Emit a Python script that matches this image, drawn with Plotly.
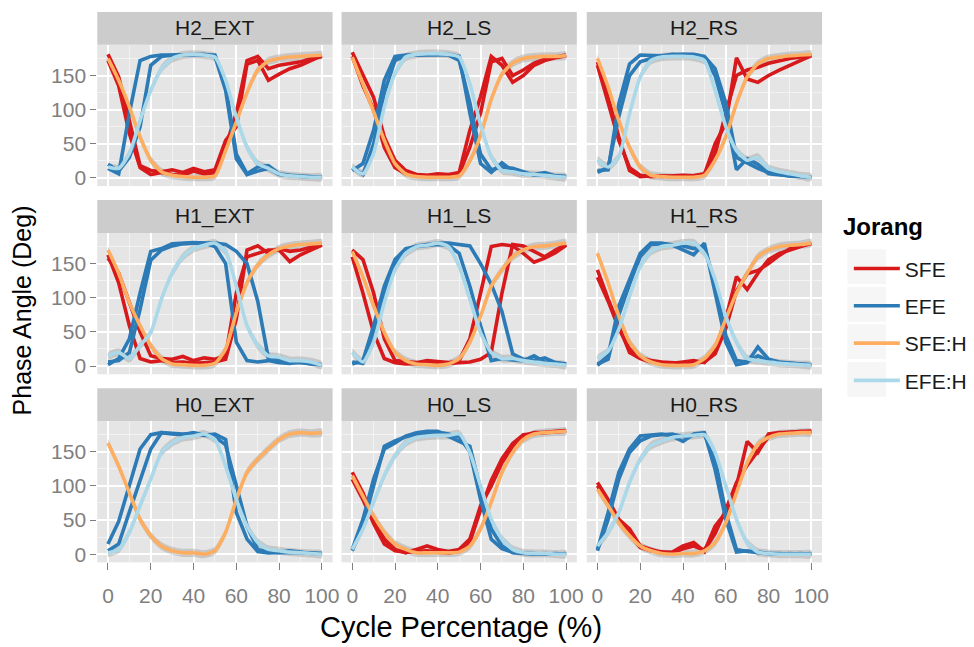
import plotly.graph_objects as go

# ---------------------------------------------------------------
# Data: phase angle (deg) sampled every 5 % of the cycle
# ---------------------------------------------------------------
X = [0, 5, 10, 15, 20, 25, 30, 35, 40, 45, 50, 55, 60, 65, 70, 75, 80, 85, 90, 95, 100]

PANELS = ["H2_EXT", "H2_LS", "H2_RS", "H1_EXT", "H1_LS", "H1_RS", "H0_EXT", "H0_LS", "H0_RS"]
SERIES = ["SFE", "EFE", "SFE:H", "EFE:H"]
X_TICKS = [0, 20, 40, 60, 80, 100]
Y_TICKS = [0, 50, 100, 150]
RIBBON_HALF_WIDTH = 6

# H2_EXT
H2_EXT_SFE_1 = [181, 148, 84, 18, 11, 9, 12, 8, 14, 9, 12, 55, 75, 167, 172, 143, 152, 160, 165, 172, 179]
H2_EXT_SFE_2 = [172, 135, 65, 15, 5, 8, 5, 4, 10, 6, 8, 45, 95, 172, 178, 160, 165, 168, 170, 175, 178]
H2_EXT_EFE_1 = [14, 6, 95, 172, 178, 180, 180, 180, 181, 181, 180, 135, 35, 6, 16, 18, 6, 4, 3, 2, 1]
H2_EXT_EFE_2 = [20, 10, 30, 75, 165, 178, 180, 180, 181, 181, 178, 128, 28, 5, 10, 14, 5, 3, 2, 1, 1]
H2_EXT_SFE_H = [175, 143, 104, 60, 26, 9, 4, 2, 1, 1, 3, 40, 82, 125, 158, 171, 175, 177, 178, 179, 180]
H2_EXT_EFE_H = [16, 14, 36, 84, 128, 160, 175, 180, 181, 180, 177, 143, 89, 45, 21, 14, 6, 3, 2, 1, 1]

# H2_LS
H2_LS_SFE_1 = [184, 150, 118, 60, 26, 11, 5, 4, 6, 5, 8, 70, 119, 178, 165, 140, 150, 165, 172, 176, 179]
H2_LS_SFE_2 = [178, 135, 100, 45, 15, 6, 4, 3, 4, 4, 6, 45, 95, 170, 175, 150, 158, 168, 174, 177, 180]
H2_LS_EFE_1 = [11, 21, 70, 143, 178, 180, 180, 180, 181, 181, 178, 95, 21, 8, 22, 10, 6, 5, 8, 3, 2]
H2_LS_EFE_2 = [15, 5, 50, 125, 172, 179, 180, 181, 181, 180, 172, 110, 35, 12, 16, 14, 9, 4, 4, 3, 2]
H2_LS_SFE_H = [177, 138, 97, 55, 21, 6, 2, 1, 1, 1, 3, 25, 62, 115, 152, 168, 175, 177, 178, 178, 179]
H2_LS_EFE_H = [16, 6, 36, 104, 153, 177, 181, 182, 182, 181, 177, 138, 78, 31, 11, 9, 6, 5, 4, 2, 1]

# H2_RS
H2_RS_SFE_1 = [170, 118, 60, 11, 2, 3, 2, 3, 4, 3, 5, 50, 80, 176, 145, 140, 150, 158, 165, 172, 179]
H2_RS_SFE_2 = [165, 110, 55, 15, 4, 2, 3, 2, 2, 3, 6, 35, 95, 150, 158, 162, 168, 172, 175, 177, 180]
H2_RS_EFE_1 = [11, 12, 109, 167, 180, 180, 179, 181, 181, 180, 176, 150, 94, 12, 28, 20, 6, 4, 3, 2, 1]
H2_RS_EFE_2 = [8, 15, 90, 150, 170, 175, 178, 180, 181, 181, 178, 160, 110, 30, 22, 14, 8, 5, 3, 2, 1]
H2_RS_SFE_H = [175, 133, 84, 45, 16, 4, 2, 1, 1, 1, 4, 26, 60, 109, 148, 167, 175, 177, 179, 180, 181]
H2_RS_EFE_H = [26, 16, 31, 94, 148, 172, 177, 178, 178, 177, 172, 128, 75, 40, 26, 30, 14, 9, 6, 3, 1]

# H1_EXT
H1_EXT_SFE_1 = [158, 136, 93, 50, 15, 11, 10, 14, 8, 12, 10, 15, 107, 160, 165, 170, 170, 153, 163, 170, 177]
H1_EXT_SFE_2 = [163, 122, 59, 11, 6, 8, 5, 6, 4, 5, 6, 10, 69, 170, 176, 165, 172, 168, 170, 174, 178]
H1_EXT_EFE_1 = [2, 11, 40, 107, 168, 172, 179, 180, 181, 180, 175, 150, 35, 8, 6, 8, 5, 4, 6, 3, 2]
H1_EXT_EFE_2 = [6, 8, 20, 83, 155, 170, 176, 179, 180, 180, 180, 178, 168, 150, 95, 11, 8, 6, 5, 3, 2]
H1_EXT_SFE_H = [170, 136, 93, 59, 30, 11, 3, 2, 1, 1, 4, 25, 78, 122, 148, 163, 172, 176, 178, 179, 180]
H1_EXT_EFE_H = [15, 20, 11, 30, 49, 98, 136, 160, 172, 177, 180, 168, 117, 59, 30, 15, 13, 8, 8, 6, 1]

# H1_LS
H1_LS_SFE_1 = [170, 156, 107, 40, 8, 6, 5, 8, 6, 5, 8, 40, 107, 175, 178, 176, 165, 152, 158, 166, 177]
H1_LS_SFE_2 = [160, 107, 49, 11, 5, 3, 4, 3, 6, 4, 5, 6, 10, 20, 107, 178, 176, 168, 160, 170, 178]
H1_LS_EFE_1 = [3, 8, 59, 117, 156, 172, 175, 177, 178, 177, 165, 117, 59, 8, 11, 9, 8, 15, 6, 4, 3]
H1_LS_EFE_2 = [6, 4, 45, 105, 150, 170, 176, 178, 180, 180, 178, 176, 150, 120, 80, 18, 10, 8, 12, 5, 3]
H1_LS_SFE_H = [168, 131, 88, 49, 20, 8, 3, 2, 1, 3, 11, 35, 73, 117, 141, 160, 170, 175, 176, 178, 180]
H1_LS_EFE_H = [20, 6, 35, 93, 141, 165, 175, 177, 180, 175, 146, 98, 49, 20, 11, 11, 8, 6, 4, 3, 1]

# H1_RS
H1_RS_SFE_1 = [141, 98, 59, 20, 11, 6, 5, 4, 6, 8, 5, 25, 69, 131, 112, 136, 156, 165, 170, 175, 180]
H1_RS_SFE_2 = [130, 95, 55, 25, 12, 8, 6, 5, 4, 5, 6, 18, 55, 110, 135, 140, 150, 162, 172, 176, 179]
H1_RS_EFE_1 = [1, 15, 88, 127, 165, 180, 180, 177, 170, 163, 180, 110, 35, 2, 5, 28, 10, 6, 4, 3, 2]
H1_RS_EFE_2 = [3, 10, 75, 120, 160, 178, 179, 178, 176, 172, 175, 120, 45, 8, 6, 15, 8, 5, 4, 3, 2]
H1_RS_SFE_H = [165, 122, 73, 35, 15, 6, 2, 1, 1, 2, 11, 30, 69, 107, 136, 160, 170, 175, 177, 178, 180]
H1_RS_EFE_H = [11, 22, 54, 102, 146, 168, 175, 177, 180, 180, 165, 127, 73, 35, 11, 8, 6, 4, 3, 2, 1]

# H0_EXT (no SFE trials recorded)
H0_EXT_SFE_1 = []
H0_EXT_SFE_2 = []
H0_EXT_EFE_1 = [15, 48, 101, 154, 175, 178, 176, 175, 178, 174, 176, 168, 61, 22, 4, 2, 3, 5, 3, 1, 1]
H0_EXT_EFE_2 = [5, 15, 62, 108, 154, 178, 177, 176, 177, 175, 172, 160, 100, 41, 7, 3, 2, 2, 3, 2, 1]
H0_EXT_SFE_H = [163, 129, 90, 51, 27, 12, 5, 2, 2, 0, 5, 32, 80, 120, 139, 154, 168, 176, 178, 177, 178]
H0_EXT_EFE_H = [2, 7, 32, 71, 110, 149, 163, 171, 173, 176, 168, 129, 80, 41, 17, 7, 5, 3, 2, 1, 0]

# H0_LS
H0_LS_SFE_1 = [120, 90, 51, 22, 7, 2, 7, 12, 7, 4, 7, 22, 71, 100, 134, 158, 173, 178, 178, 179, 180]
H0_LS_SFE_2 = [110, 80, 45, 15, 5, 3, 4, 5, 3, 2, 4, 18, 65, 108, 140, 162, 175, 177, 179, 180, 181]
H0_LS_EFE_1 = [7, 51, 110, 154, 163, 173, 178, 180, 180, 173, 165, 158, 95, 37, 12, 2, 1, 0, 1, 0, 1]
H0_LS_EFE_2 = [5, 41, 100, 158, 166, 172, 176, 178, 179, 176, 172, 150, 80, 22, 8, 3, 2, 1, 0, 1, 0]
H0_LS_SFE_H = [115, 85, 56, 32, 15, 7, 2, 2, 2, 2, 3, 12, 37, 76, 120, 149, 168, 176, 178, 179, 180]
H0_LS_EFE_H = [7, 37, 76, 115, 144, 163, 171, 173, 174, 174, 176, 149, 100, 51, 22, 7, 2, 1, 1, 0, 0]

# H0_RS
H0_RS_SFE_1 = [105, 80, 51, 37, 12, 7, 2, 3, 12, 17, 4, 41, 61, 100, 165, 149, 176, 178, 178, 180, 180]
H0_RS_SFE_2 = [100, 75, 48, 30, 10, 5, 3, 2, 8, 12, 6, 30, 65, 105, 130, 152, 172, 177, 179, 179, 180]
H0_RS_EFE_1 = [7, 61, 120, 154, 173, 175, 176, 173, 165, 176, 178, 124, 51, 3, 5, 2, 1, 0, 1, 0, 1]
H0_RS_EFE_2 = [5, 51, 110, 149, 166, 173, 175, 176, 172, 174, 176, 139, 61, 7, 4, 3, 1, 1, 0, 1, 0]
H0_RS_SFE_H = [95, 71, 46, 27, 12, 5, 1, 0, 1, 1, 5, 17, 46, 90, 134, 161, 171, 176, 177, 178, 178]
H0_RS_EFE_H = [12, 32, 61, 105, 139, 159, 166, 171, 173, 174, 175, 149, 100, 51, 17, 3, 1, 0, 0, 0, 0]

_g = globals()
TRIALS = {p: {"SFE": [_g[p + "_SFE_1"], _g[p + "_SFE_2"]],
              "EFE": [_g[p + "_EFE_1"], _g[p + "_EFE_2"]]} for p in PANELS}
SMOOTH = {p: {"SFE:H": _g[p + "_SFE_H"], "EFE:H": _g[p + "_EFE_H"]} for p in PANELS}

# ---------------------------------------------------------------
# Styling / layout (pixel geometry of the 974 x 647 canvas)
# ---------------------------------------------------------------
W, H = 974, 647
COLORS = {"SFE": "#D7191C", "EFE": "#2C7BB6", "SFE:H": "#FDAE61", "EFE:H": "#ABD9E9"}
FONT = "Liberation Sans, Arial, Helvetica, sans-serif"
COL_LEFT = [98, 344, 591]
PANEL_W = 237
ROW_TOP = [45, 234, 423]
PANEL_H = 142
STRIP_H = 33


def fx(p):
    return p / W


def fy(p):
    return 1 - p / H


fig = go.Figure()
layout_axes = {}
shapes = []
annotations = []
legend_done = set()

for i, panel in enumerate(PANELS):
    r, c = divmod(i, 3)
    k = i + 1
    xa = "x" if k == 1 else f"x{k}"
    ya = "y" if k == 1 else f"y{k}"
    left, top = COL_LEFT[c], ROW_TOP[r]

    layout_axes["xaxis" if k == 1 else f"xaxis{k}"] = dict(
        domain=[fx(left), fx(left + PANEL_W)], anchor=ya, range=[-5, 105],
        tickvals=X_TICKS, showticklabels=(r == 2), ticks="outside" if r == 2 else "",
        ticklen=7, tickwidth=1.2, tickcolor="#7F7F7F", ticklabelstandoff=7,
        tickfont=dict(family=FONT, size=21, color="#7F7F7F"),
        showgrid=True, gridcolor="#FFFFFF", gridwidth=1.6, zeroline=False, showline=False,
        minor=dict(tickvals=[10, 30, 50, 70, 90], showgrid=True, gridcolor="#F2F2F2", gridwidth=0.8),
        fixedrange=True,
    )
    layout_axes["yaxis" if k == 1 else f"yaxis{k}"] = dict(
        domain=[fy(top + PANEL_H), fy(top)], anchor=xa, range=[-12, 195],
        tickvals=Y_TICKS, showticklabels=(c == 0), ticks="outside" if c == 0 else "",
        ticklen=6, tickwidth=1.2, tickcolor="#7F7F7F",
        tickfont=dict(family=FONT, size=21, color="#7F7F7F"),
        showgrid=True, gridcolor="#FFFFFF", gridwidth=1.6, zeroline=False, showline=False,
        minor=dict(tickvals=[25, 75, 125, 175], showgrid=True, gridcolor="#F2F2F2", gridwidth=0.8),
        fixedrange=True,
    )

    # facet strip
    shapes.append(dict(type="rect", xref="paper", yref="paper",
                       x0=fx(left), x1=fx(left + PANEL_W), y0=fy(top), y1=fy(top - STRIP_H),
                       fillcolor="#CCCCCC", line=dict(width=0), layer="below"))
    annotations.append(dict(text=panel, xref="paper", yref="paper",
                            x=fx(left + PANEL_W / 2), y=fy(top - STRIP_H / 2),
                            showarrow=False, xanchor="center", yanchor="middle",
                            font=dict(family=FONT, size=21, color="#1A1A1A")))

    # confidence ribbons of the smoothed curves
    for s in ["SFE:H", "EFE:H"]:
        ys = SMOOTH[panel][s]
        upper = [v + RIBBON_HALF_WIDTH for v in ys]
        lower = [v - RIBBON_HALF_WIDTH for v in ys]
        fig.add_trace(go.Scatter(x=X + X[::-1], y=upper + lower[::-1], xaxis=xa, yaxis=ya,
                                 mode="lines", fill="toself", fillcolor="rgba(140,140,140,0.35)",
                                 line=dict(width=0, shape="spline", smoothing=0.6),
                                 hoverinfo="skip", showlegend=False))

    # individual trials
    for s in ["SFE", "EFE"]:
        for ys in TRIALS[panel][s]:
            if not ys:
                continue
            show = s not in legend_done
            legend_done.add(s)
            fig.add_trace(go.Scatter(x=X, y=ys, xaxis=xa, yaxis=ya, mode="lines", name=s,
                                     legendgroup=s, showlegend=show,
                                     line=dict(color=COLORS[s], width=3.6)))

    # smoothed curves
    for s in ["SFE:H", "EFE:H"]:
        show = s not in legend_done
        legend_done.add(s)
        fig.add_trace(go.Scatter(x=X, y=SMOOTH[panel][s], xaxis=xa, yaxis=ya, mode="lines", name=s,
                                 legendgroup=s, showlegend=show,
                                 line=dict(color=COLORS[s], width=3.6, shape="spline", smoothing=0.6)))

# legend key backgrounds
for j in range(4):
    yc = 268 + j * 37.7
    shapes.append(dict(type="rect", xref="paper", yref="paper",
                       x0=fx(853), x1=fx(893), y0=fy(yc + 18), y1=fy(yc - 18),
                       fillcolor="#F6F6F6", line=dict(color="#FFFFFF", width=1), layer="below"))

# legend title and axis titles
annotations.append(dict(text="<b>Jorang</b>", xref="paper", yref="paper",
                        x=fx(847), y=fy(228), showarrow=False, xanchor="left", yanchor="middle",
                        font=dict(family=FONT, size=24, color="#000000")))
annotations.append(dict(text="Cycle Percentage (%)", xref="paper", yref="paper",
                        x=fx(464), y=fy(630), showarrow=False, xanchor="center", yanchor="middle",
                        font=dict(family=FONT, size=29, color="#000000")))
annotations.append(dict(text="Phase Angle (Deg)", xref="paper", yref="paper",
                        x=fx(22), y=fy(312), showarrow=False, xanchor="center", yanchor="middle",
                        textangle=-90, font=dict(family=FONT, size=25, color="#000000")))

fig.update_layout(
    width=W, height=H, margin=dict(l=0, r=0, t=0, b=0),
    paper_bgcolor="#FFFFFF", plot_bgcolor="#E5E5E5",
    shapes=shapes, annotations=annotations,
    showlegend=True,
    legend=dict(x=fx(855), y=fy(249.5), xanchor="left", yanchor="top",
                font=dict(family=FONT, size=21, color="#1A1A1A"),
                bgcolor="rgba(0,0,0,0)", tracegroupgap=7, itemwidth=46),
    **layout_axes,
)

fig.write_html("out.html")
